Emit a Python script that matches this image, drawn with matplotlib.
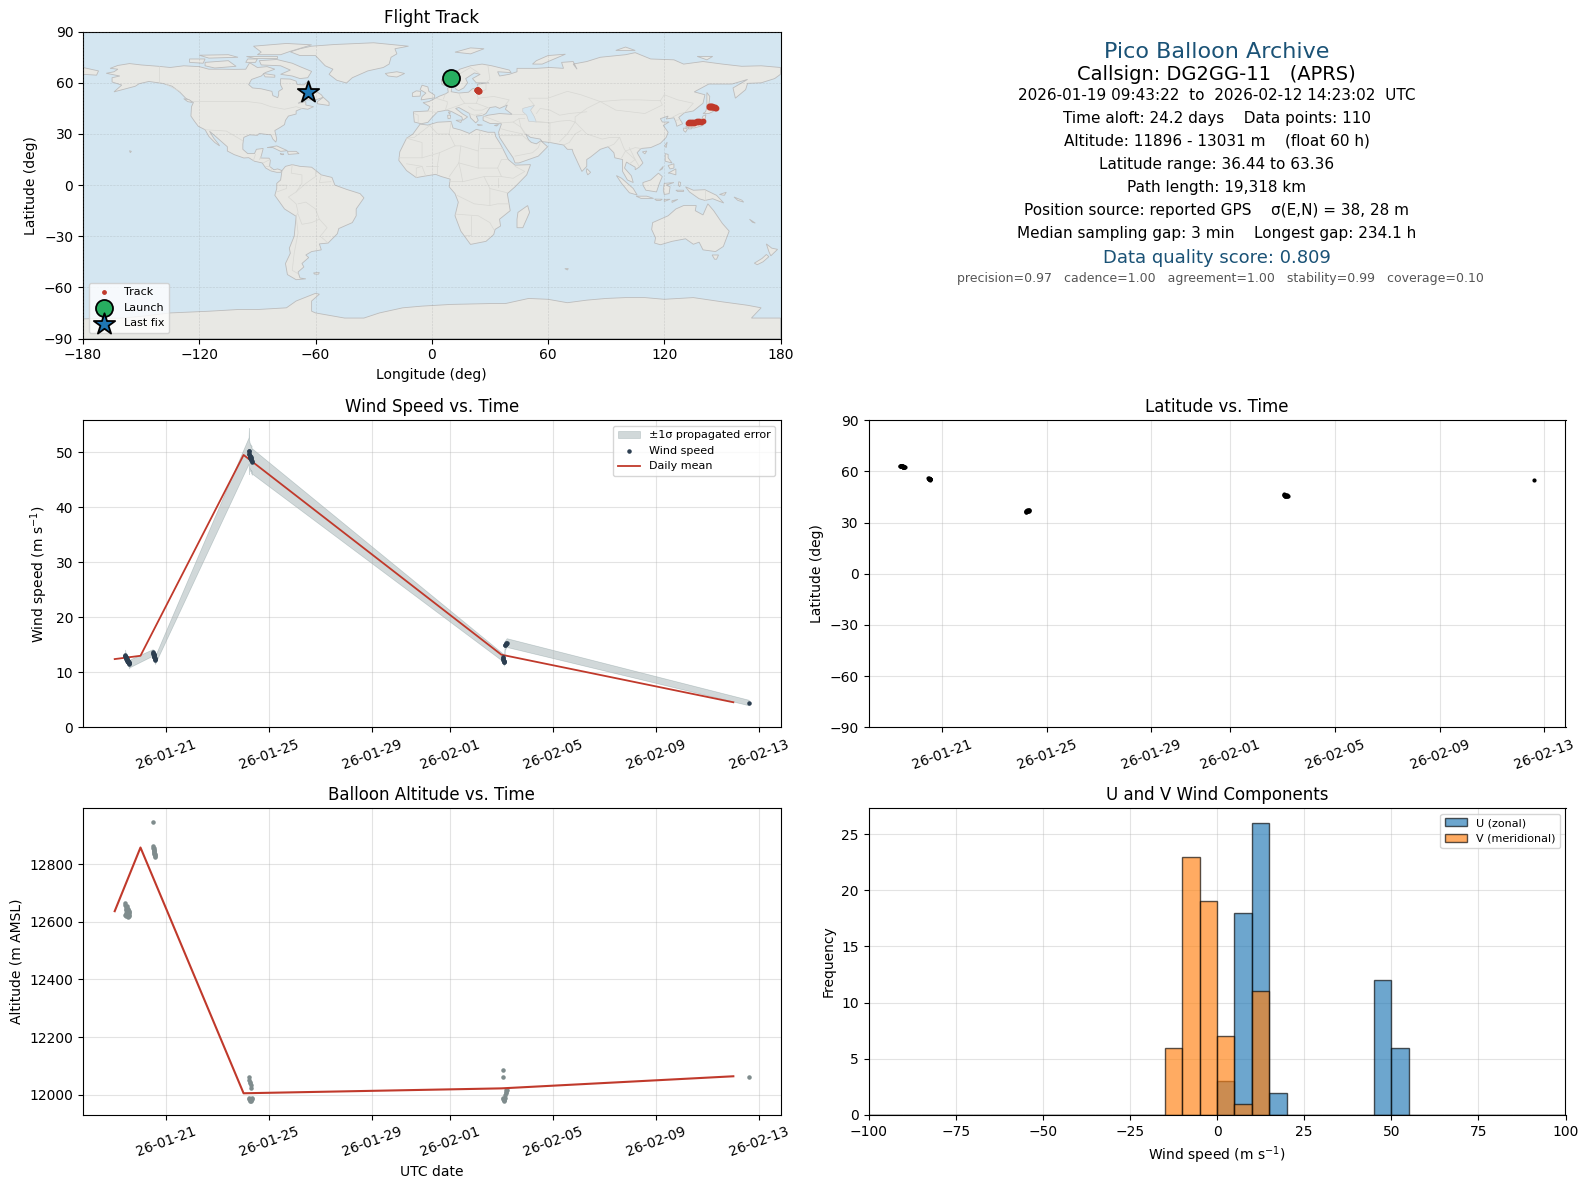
from datetime import datetime, timedelta
import matplotlib
matplotlib.use("Agg")
import matplotlib.pyplot as plt
import matplotlib.dates as mdates
import numpy as np

# ---- time series (days since 2026-01-19 00:00 UTC) ----
t_days = [0.405,0.412,0.418,0.425,0.432,0.44,0.447,0.453,0.46,0.468,0.475,0.48,0.487,0.495,0.5,0.508,0.515,0.522,0.53,0.537,0.545,0.553,0.562,0.572,
          1.47,1.50,1.505,1.51,1.515,1.52,1.525,1.53,1.535,1.54,1.545,1.55,1.555,1.56,
          5.195,5.205,5.215,5.225,5.235,5.245,5.255,5.265,5.275,5.285,5.295,5.305,5.315,5.325,
          15.06,15.07,15.075,15.08,15.085,15.09,15.10,15.11,15.13,15.15,15.165,15.18,15.19,15.205,
          24.60]
wind = [13.1,12.9,13.0,12.7,12.8,12.6,12.5,12.6,12.4,12.3,12.4,12.2,12.1,12.2,12.0,11.9,12.1,11.8,11.9,11.7,11.6,11.8,11.5,11.6,
        13.6,13.5,13.3,13.4,13.1,13.2,12.9,13.0,12.8,12.7,12.6,12.4,12.5,12.2,
        50.3,50.2,49.7,49.6,49.4,49.2,49.3,48.9,49.1,48.8,48.6,48.9,48.2,48.4,
        12.7,12.6,12.4,12.3,12.1,12.0,11.9,11.8,14.9,15.0,15.1,15.2,15.3,15.4,
        4.5]
sigma = [1.0,0.8,0.7,0.6,0.6,0.6,0.6,0.6,0.6,0.6,0.6,0.6,0.6,0.6,0.6,0.6,0.6,0.6,0.6,0.6,0.6,0.6,0.8,0.7,
         0.6,0.6,0.6,0.6,0.6,0.6,0.6,0.6,0.6,0.6,0.6,0.6,0.6,0.7,
         2.4,4.2,2.5,2.4,2.3,2.4,2.3,2.4,2.3,2.3,2.4,2.3,2.3,2.3,
         0.7,0.6,0.6,0.6,0.6,0.7,0.6,0.6,0.8,0.8,0.8,0.8,0.8,0.8,
         0.5]
altitude = [12665,12625,12658,12640,12620,12650,12632,12645,12622,12655,12636,12628,12648,12624,12640,12618,12634,12645,12626,12620,12638,12630,12622,12634,
            12946,12862,12858,12855,12851,12848,12845,12842,12840,12837,12834,12832,12828,12825,
            12060,11990,12050,11985,12045,11980,12040,11979,12032,11981,12025,11978,11984,11988,
            12087,12060,11990,11985,11980,11979,11982,11985,11990,12000,12005,12010,12015,12018,
            12062]
latitude = [63.36,63.3,63.25,63.3,63.2,63.15,63.2,63.1,63.05,63.1,63.0,62.95,63.0,62.9,62.95,62.85,62.9,62.8,62.85,62.8,62.75,62.8,62.7,62.75,
            56.0,55.9,55.85,55.8,55.75,55.7,55.65,55.6,55.55,55.5,55.45,55.4,55.3,55.2,
            36.44,37.0,36.5,36.9,36.6,37.1,36.7,37.3,36.8,37.4,36.9,37.5,37.0,37.6,
            46.5,46.0,46.4,45.9,46.3,45.8,46.2,45.7,46.1,45.6,46.0,45.5,45.9,45.4,
            55.0]
longitude = [9.8,9.9,10.0,10.0,10.1,10.2,10.3,10.3,10.4,10.5,10.6,10.6,10.7,10.8,10.9,10.9,11.0,11.1,11.2,11.2,11.3,11.4,11.5,11.6,
             23.3,23.4,23.5,23.5,23.6,23.7,23.7,23.8,23.9,24.0,24.0,24.1,24.2,24.3,
             132.5,133.0,133.5,134.0,134.5,135.0,135.5,136.0,136.5,137.0,137.5,138.0,138.8,139.8,
             143.0,143.2,143.5,143.7,144.0,144.2,144.5,144.8,145.0,145.3,145.6,146.0,146.4,146.9,
             -64.0]

mean_days = [0, 1, 5, 15, 24]
mean_wind = [12.4, 13.0, 49.5, 13.2, 4.55]
mean_alt = [12637, 12858, 12005, 12022, 12064]

launch_pos = (9.8, 63.1)
last_pos = (-64.0, 54.5)

# ---- histogram ----
hist_edges = list(range(-100, 105, 5))
u_bins = [0, 5, 10, 15, 45, 50]
u_counts = [3, 18, 26, 2, 12, 6]
v_bins = [-15, -10, -5, 0, 5, 10]
v_counts = [6, 23, 19, 7, 1, 11]

# ---- map outlines (lon, lat) ----
land_polys = [
 [(-168,65.6),(-164,66.5),(-162,68),(-166,68.5),(-162,70.2),(-156,71.3),(-150,70.5),(-141,69.7),(-135,69),(-128,70),(-120,69.5),(-115,68),(-108,68),(-102,67.9),(-96,68),(-94,71.8),(-90,69),(-85,69.5),(-81,68),(-86,66),(-88,64),(-93,62),(-94.5,59),(-92.5,57),(-88,56.5),(-82.5,55),(-82,52.5),(-79.5,51.3),(-79,53),(-79,55),(-77,56.5),(-78,58.7),(-78,62.4),(-73,62.2),(-70,61),(-69.5,59),(-66,58.8),(-64.5,60.3),(-61,56),(-57,53),(-56,51.5),(-60,50),(-66,50),(-69,48),(-65,49),(-65,47),(-61,46),(-64,44.5),(-67,45),(-70,43.5),(-70,41.7),(-74,40.5),(-75.5,38),(-76,35.5),(-78,34),(-81,32),(-80,27),(-80.5,25.2),(-82,27),(-83,29.5),(-85,29.7),(-89,30.3),(-90,29.2),(-94,29.5),(-97,28),(-97.5,24),(-97.5,21),(-95,18.5),(-91.5,18.5),(-90.5,21),(-87,21.5),(-88,17),(-88.5,15.9),(-84,15.8),(-83.3,14.5),(-83.7,11),(-81.5,9),(-79.5,9.5),(-77.3,8.5),(-78,7.5),(-80,7.5),(-83,8.3),(-85.7,10),(-87.5,13),(-91.5,14),(-94.5,16.1),(-97,15.9),(-102,17.9),(-105.5,20),(-105.5,22.5),(-109,26),(-112.5,29.5),(-114.7,31.6),(-112.5,27.5),(-110,24),(-109.5,23),(-112,25),(-115,28.5),(-117,32.5),(-120.5,34.5),(-122.5,37.5),(-124.3,40.5),(-124,46),(-123,48.5),(-127,51),(-130,54.5),(-134,58),(-139,59.7),(-146,60.8),(-151,59.5),(-153,58),(-158,56.5),(-164,54.7),(-160,58.7),(-165,60.5),(-165,63),(-161,64)],
 [(-73,78.2),(-68,76),(-60,76),(-55,70),(-51,68),(-53,65),(-49,61.5),(-44,59.9),(-41,63),(-33,67),(-25,69),(-22,71),(-21,75),(-18,77),(-19,80),(-12,81.5),(-30,83.5),(-50,82.5),(-62,81.5),(-68,80)],
 [(-80,73.7),(-72,71.5),(-68,69.5),(-62,66.7),(-64,63),(-68,62.5),(-72,64),(-78,65),(-73,67.5),(-78,70),(-88,70.5),(-89,73)],
 [(-117,72),(-105,73),(-101,69.7),(-112,68.7),(-117,70)],
 [(-125,74),(-117,74),(-118,71.5),(-125,72)],
 [(-90,76.5),(-78,76.5),(-73,78.5),(-62,82.3),(-75,83.1),(-92,81.5),(-88,78)],
 [(-96,75.5),(-80,75.5),(-80,74.6),(-92,74.6)],
 [(-120,76.2),(-105,76.5),(-100,75),(-115,74.5)],
 [(-95,74),(-90,74),(-91,72),(-96,72)],
 [(-87,65.5),(-81,64.5),(-81,63.3),(-86,63.5)],
 [(-59,47.7),(-53,46.7),(-53,48.5),(-56,51.5),(-59,49)],
 [(-85,22),(-80,23),(-74.5,20.2),(-78,19.8),(-82,22)],
 [(-74.5,19.8),(-70,19.8),(-68.5,18.5),(-74,18)],
 [(-78.3,18.4),(-76.3,18.2),(-77,17.8)],
 [(-128,50.7),(-125,50),(-123.5,48.4),(-126,49)],
 [(-156,20.2),(-155,19.8),(-155.6,19)],
 [(-77.3,8.5),(-75.5,11),(-72,12),(-68,11),(-62,10.5),(-57,6),(-51.5,4.5),(-50,0),(-44,-2.5),(-37,-5),(-35,-7.5),(-39,-14),(-39,-18),(-41,-22),(-48,-25.5),(-48.7,-28.5),(-53.5,-34),(-58,-34.5),(-57,-38),(-62,-39),(-65,-41),(-63.5,-42.5),(-67,-46),(-66,-48),(-69,-51),(-68,-54.5),(-65,-55),(-70,-55.5),(-74.5,-52.5),(-75.5,-46),(-73,-40),(-73.5,-37),(-71,-30),(-70,-18.3),(-76,-14),(-81,-6),(-80,-2),(-80,1),(-78,3),(-77.5,7)],
 [(-61,-51.5),(-58,-51.3),(-58.5,-52.3),(-60.5,-52.2)],
 [(-6,35.8),(-2,35.2),(3,36.9),(10,37.3),(11,33.5),(15,32.3),(19.5,30.3),(23,32.7),(29,31),(32.5,31),(33,28.5),(35.5,24),(37.3,20),(39.5,15),(43,11.7),(51,12),(49,6),(43,-1),(39,-5),(40.5,-15),(35,-20),(35.5,-24),(32.7,-26),(32,-29),(28,-33),(20,-34.8),(18.2,-32),(15,-27),(12,-18),(13.7,-10),(12,-5),(9,-1),(9.5,3.5),(5,5),(2,6.3),(-4,5.2),(-8,4.4),(-13,8.5),(-17,14.5),(-16.5,19.5),(-13,27.5),(-9.7,30)],
 [(-9,37),(-9.5,43),(-2,43.5),(-1,46),(-4.5,48.4),(-1.5,49),(2,51),(4,52.2),(7,53.5),(8.5,54.5),(8.2,57),(10.5,57.7),(10,54.8),(14,54),(19,54.5),(21,56.5),(24,57.2),(23.5,59.2),(29.5,60),(23,60),(21,62.5),(25,65),(22,65.8),(17.5,62.5),(18.5,60),(16.5,57),(14,55.5),(12.7,56),(11,59),(8,58),(5.3,59),(5,62),(10,64),(14.5,68),(20,70),(26,71),(31,70),(40,67.5),(41,66),(34,66.5),(35,64),(40,65),(44,66.5),(44,68.5),(54,68.5),(61,69),(68,68.5),(67,72),(73,72.5),(75,68),(73,71),(80,72.5),(87,75),(100,76.5),(105,77.7),(113,74),(125,73.5),(130,71),(140,72.5),(150,71),(160,69.7),(170,70),(180,69),(180,65),(177,62.5),(170,60),(163,59.7),(162,56),(156.7,51),(155.5,57),(163,62),(155,59.3),(143,59.3),(135.5,54.7),(141,53),(140,48),(135,43.5),(130.5,42.5),(127.5,39.7),(129.5,36),(126.5,34.5),(126,37),(125,39.5),(121,38.8),(122,40.5),(118,39),(119,37),(122.5,37),(119.5,35),(122,31),(121,28),(118,24.5),(113,22),(108,21.5),(106,19),(109,13),(107,10.5),(105,9),(105,10.5),(102,12.5),(100.5,13.5),(99.5,10),(103,5.5),(104,1.5),(101,3),(98.5,8),(98.5,15),(94.5,16),(94,19),(91,22.5),(87,21),(82,16.5),(80,15),(80,11),(77.5,8),(73,19),(72.5,21),(70,21),(68,23.5),(61,25),(57,25.5),(56,27),(51,28),(48.5,30),(50,26.5),(51.5,25),(54,24.2),(56.3,26),(59.8,22.5),(55,17),(45,13),(43,13),(42,16),(39,21),(35,28),(34.5,31),(36,36),(30,36.2),(26.5,38),(26.5,40),(29,41),(35,42),(41.5,41.5),(38,44.5),(39,47),(35,45),(33,46),(30,45.5),(28,42),(26,40.8),(23,40.5),(24,38),(22.7,36.5),(20,39.5),(19.5,42),(14,45.5),(12.3,45),(16,41.7),(18.5,40),(16,38),(15.5,40),(10.5,43),(8,44),(3,43),(0,39.5),(-2,36.8),(-5.5,36)],
 [(-180,69),(-172,67),(-173,64.5),(-180,65)],
 [(-5.5,50),(1.5,51.2),(1.5,52.8),(-1.5,55),(-2,57.6),(-5,58.6),(-6,56),(-3,54),(-5,52)],
 [(-10,52),(-6,52.2),(-5.7,55),(-8,55.3),(-10,54)],
 [(-24,65.5),(-18,66.5),(-14,65.5),(-18,63.4),(-22.5,64)],
 [(12,78),(20,80.5),(27,80),(20,77)],
 [(52,71),(57,71),(69,76.8),(60,76),(54,73)],
 [(95,79),(105,79),(100,81)],
 [(137,75.5),(145,75.5),(142,73.5)],
 [(142,54.3),(143.5,52),(143,47),(142,46),(142,50)],
 [(130.9,34),(135.5,33.5),(140,35),(141,38),(141.5,41.3),(140,40.5),(139,38),(136.5,37),(133,35.5)],
 [(140,42),(143,42),(145.5,43.3),(142,45.5),(141.3,43)],
 [(130,33.5),(132,33),(131,31),(130,32)],
 [(132.5,34),(134.5,34),(134,33),(132.5,33)],
 [(120.2,23),(121.5,25.2),(121,22)],
 [(108.7,19.5),(111,20),(110,18.3)],
 [(120.5,18.5),(122,18),(122,16),(124,13),(120.5,14)],
 [(122,7),(126,9.5),(126,6),(123,7)],
 [(122,11.5),(125,12.5),(125,10),(123,9.5)],
 [(117.5,8.5),(119.5,11),(119,9.5)],
 [(109,1.5),(113,3),(117,7),(119,5),(117.5,1),(116,-4),(110.5,-3),(109,0)],
 [(95.3,5.6),(98,4),(104,-2),(106,-5.8),(102,-4.5),(98,1)],
 [(105.5,-6.5),(111,-6.5),(114.5,-7.8),(108,-7.8)],
 [(115,-8.2),(119,-8.3),(118,-9),(116,-9)],
 [(120,-8.4),(123,-8.3),(120,-9.6)],
 [(124,-9.2),(127,-8.4),(124,-10.2)],
 [(120,1),(125,1.5),(121,0),(123,-1),(122.5,-5),(120,-5.5),(119.5,-3)],
 [(127.5,2),(128.5,1.5),(128,-1),(127.3,0)],
 [(126,-3),(130,-3),(130,-3.7),(127,-3.8)],
 [(131,-1),(135,-3),(141,-2.7),(147,-6),(150.7,-10.5),(145,-8),(141,-9),(138,-8),(133,-4)],
 [(148.5,-5.5),(152,-4.2),(151,-6)],
 [(156,-7),(160,-8.8),(161,-10),(158,-9)],
 [(80,9.7),(82,7.5),(80.5,6),(79.8,8)],
 [(49.5,-12),(50.5,-16),(47,-25),(44,-25),(44,-20),(44.5,-16)],
 [(114,-22),(122,-18),(126,-14),(130,-12),(136.5,-12),(136,-15),(140,-17.5),(142.5,-11),(145.5,-15),(150,-22.5),(153.5,-27),(150.5,-36),(146.5,-39),(140,-38),(138,-33.5),(135,-34.7),(131,-31.5),(124,-33),(118,-35),(115,-34),(115.5,-31),(113.5,-26)],
 [(144.7,-41),(148,-41),(147,-43.5),(146,-43.5)],
 [(172.7,-34.5),(175.5,-37),(178.5,-37.7),(175,-41.5),(174,-39)],
 [(172.7,-40.7),(174,-42),(171,-45),(168,-46.7),(166.5,-45.8),(170.5,-43)],
 [(164,-20),(167,-22.3),(165.5,-21.8)],
 [(68.7,-49),(70.5,-49),(70,-49.8)],
 [(12.5,38),(15.5,38.2),(15,36.7)],
 [(8.2,41),(9.7,41),(9.5,39),(8.4,39)],
 [(8.6,42.8),(9.5,43),(9.3,41.5)],
 [(23.5,35.6),(26.2,35.2),(24,35)],
 [(32.3,35),(34.5,35.6),(33.5,34.7)],
 [(-180,-90),(-180,-78.5),(-160,-78),(-150,-77),(-135,-75),(-115,-74),(-100,-73),(-90,-73),(-75,-72),(-70,-68),(-60,-63.5),(-58,-64),(-62,-68),(-62,-74),(-60,-75),(-45,-78),(-35,-78),(-27,-75),(-15,-72),(-5,-71),(10,-70),(30,-69.5),(38,-69.5),(50,-66.5),(60,-67),(70,-69),(80,-67.5),(90,-66.5),(100,-66),(110,-66),(120,-67),(135,-66),(150,-68.5),(163,-70.5),(170,-72),(165,-78),(180,-78),(180,-90)],
]
lake_polys = [
 [(47,45),(53,46.8),(51,44),(53,40),(54,37),(50,37.5),(49,41),(47,43)],
]
border_lines = [
 [(-141,69.7),(-141,60)],[(-137,59),(-130,55)],[(-123,49),(-95,49),(-88,48),(-83,46),(-76,44.5),(-70,46),(-67,45)],
 [(-117,32.5),(-106,31.7),(-97.5,26)],[(-92,14.5),(-91,18)],[(-89,15),(-88,17)],[(-83.5,15),(-87,13)],[(-83.7,11),(-86,11)],[(-83,8.5),(-82.8,9.5)],
 [(-72,12),(-72.5,7),(-67,6),(-67,1),(-70,-4)],[(-60,8.5),(-60,5),(-65,1),(-70,-4),(-74,-7),(-70,-11),(-69,-16),(-70,-18.3)],
 [(-57,6),(-58,1.5),(-52,2)],[(-69,-11),(-65,-10),(-60,-14),(-58,-20),(-54,-25),(-57.5,-30),(-53.5,-34)],[(-69,-17),(-67,-23),(-62,-22),(-58,-20)],
 [(-70,-18.3),(-69,-28),(-71,-40),(-72,-50),(-69,-52)],[(-80,0),(-75,0),(-75,-2),(-80,-4)],
 [(-9,42),(-7,41),(-7,37)],[(-2,43.5),(3,42.5)],[(2,51),(8,49),(8,47.5),(7,44),(13.5,46.5),(17,48),(23,48),(29,45.5)],[(7,53.5),(6,50.5)],[(14,54),(15,51),(17,48)],[(23,54.3),(24,51),(23,48)],[(23,54.3),(28,56),(28,60)],[(24,51),(32,52),(40,50),(38,47)],
 [(29,70),(30,62),(28,60)],[(20,69),(24,66)],[(12,61),(14,65),(20,69)],
 [(26,42),(22,41),(19.5,42)],[(29,45.5),(26,44),(22,44),(19,46)],[(26,40.8),(36,36.5),(42,37),(45,39),(48,39)],[(41.5,41.5),(48,41.5)],
 [(36,33),(39,32),(47,30)],[(42,37),(46,34),(48.5,30)],[(34.5,29),(37,29),(47,29),(51,25)],[(43,17),(52,19),(55,22),(56,25)],[(45,39),(46,34),(48,30)],[(54,37),(61,36.5),(61,29),(61,25)],[(61,36.5),(66,37.5),(71,38),(74,37),(70,30),(66,25.5)],
 [(74,37),(80,30),(88,27),(92,28),(97,28),(94,24),(91,22.5)],[(77,32),(74,30),(71,25),(68,23.5)],[(97,28),(99,22),(100,20),(98,16)],[(100,20),(105,22),(108,21.5)],[(102,22),(105,15),(107,11)],[(100,20),(102,18),(105,15),(102,12.5)],
 [(53,46.8),(50,51),(60,51),(70,55),(77,53),(87,49),(98,50),(107,50),(118,49.5),(120,53),(127,50),(135,48),(131,43)],
 [(87,49),(80,45),(74,40),(74,37)],[(87,49),(95,44),(110,42),(119,47),(118,49.5)],[(54,42),(56,45),(61,44),(66,41),(71,42),(80,43)],[(54,37.5),(61,36.5)],
 [(124.5,40),(128,42),(130.5,42.5)],[(126,38),(128.5,38.5)],
 [(-1,35),(-9,28),(-13,27.5)],[(-1,35),(3,30),(9,30),(10,37)],[(9,30),(12,23),(15,23),(24,20),(25,32)],[(25,22),(36,22)],[(24,20),(24,10),(34,10),(36,15),(39,15)],[(34,10),(36,5),(42,4),(48,8),(43,11)],
 [(-17,16),(-5,16),(-5,25),(-13,27.5)],[(-5,16),(4,19),(12,23)],[(4,19),(3,12),(3,6.5)],[(15,23),(14,13),(9,5)],[(14,13),(24,10)],[(14,13),(15,8),(16,2),(9,2)],[(16,2),(27,5),(36,5)],[(27,5),(30,-2),(30,-12),(22,-11),(13,-6)],[(30,-12),(34,-11),(40,-11)],[(12,-17),(24,-18),(30,-22),(32,-26)],[(20,-18),(20,-29),(17,-29)],[(30,-2),(39,-4.5)],[(34,4),(34,-1)],
 [(-8,4.4),(-8,10),(-5,11),(-3,5)],[(-3,11),(3,11)],[(-13,12.5),(-5,11)],
 [(141,-2.7),(141,-9)],
]

band_color = "#264a4e"
gray_dot = "#7f8c8d"
red = "#c0392b"
navy = "#2c3e50"
ink_blue = "#1a5276"
W, H = 1588, 1189


def make_axes(x0, x1, y0, y1):
    return fig.add_axes([x0 / W, 1 - y1 / H, (x1 - x0) / W, (y1 - y0) / H])


def date_axis(ax):
    ax.xaxis.set_major_locator(mdates.AutoDateLocator())
    ax.xaxis.set_major_formatter(mdates.DateFormatter("%y-%m-%d"))
    ax.tick_params(axis="x", rotation=20)
    ax.grid(True, alpha=0.35)


fig = plt.figure(figsize=(15.88, 11.89), dpi=100)
base = datetime(2026, 1, 19)
times = [base + timedelta(days=d) for d in t_days]
mean_times = [base + timedelta(days=d) for d in mean_days]
wind_a = np.array(wind)
sigma_a = np.array(sigma)

L0, L1, R0, R1 = 83, 780.5, 868.5, 1565.5
ROWS = [(31.7, 338.5), (420.3, 727.3), (808.2, 1115)]

# ---- Flight track ----
ax = make_axes(L0, L1, *ROWS[0])
ax.set_facecolor("#d4e6f1")
for poly in land_polys:
    xs, ys = zip(*poly)
    ax.fill(xs, ys, facecolor="#e8e8e4", edgecolor="#bcbcbc", linewidth=0.6, zorder=1)
for poly in lake_polys:
    xs, ys = zip(*poly)
    ax.fill(xs, ys, facecolor="#d4e6f1", edgecolor="#c8c8c8", linewidth=0.4, zorder=1.1)
for line in border_lines:
    xs, ys = zip(*line)
    ax.plot(xs, ys, color="#d8d8d4", linewidth=0.5, zorder=1.2)
ax.scatter(longitude, latitude, s=10, color=red, zorder=3, label="Track")
ax.scatter(*launch_pos, s=150, color="#27ae60", edgecolors="black", linewidths=1.3, zorder=4, label="Launch")
ax.scatter(*last_pos, s=260, marker="*", color="#1f77b4", edgecolors="black", linewidths=1.3, zorder=4, label="Last fix")
ax.set_xlim(-180, 180)
ax.set_ylim(-90, 90)
ax.set_xticks(range(-180, 181, 60))
ax.set_yticks(range(-90, 91, 30))
ax.grid(True, linestyle="--", linewidth=0.45, color="gray", alpha=0.25, zorder=2)
ax.set_axisbelow(False)
ax.set_xlabel("Longitude (deg)")
ax.set_ylabel("Latitude (deg)")
ax.set_title("Flight Track")
legend = ax.legend(loc="lower left", fontsize=8, markerscale=1.0)
legend.legend_handles[0].set_sizes([6])

# ---- Summary text ----
ax = make_axes(R0, R1, *ROWS[0])
ax.axis("off")
summary = [
    ("Pico Balloon Archive", 52.0, 16, ink_blue, 0),
    ("Callsign: DG2GG-11   (APRS)", 74.6, 14, "black", -1),
    ("2026-01-19 09:43:22  to  2026-02-12 14:23:02  UTC", 95.2, 11, "black", 0),
    ("Time aloft: 24.2 days    Data points: 110", 118.2, 11, "black", 0),
    ("Altitude: 11896 - 13031 m    (float 60 h)", 141.2, 11, "black", 0),
    ("Latitude range: 36.44 to 63.36", 164.2, 11, "black", 0),
    ("Path length: 19,318 km", 187.2, 11, "black", 0),
    ("Position source: reported GPS    σ(E,N) = 38, 28 m", 210.2, 11, "black", 0),
    ("Median sampling gap: 3 min    Longest gap: 234.1 h", 233.2, 11, "black", 0),
    ("Data quality score: 0.809", 257.8, 13, ink_blue, 0),
    ("precision=0.97   cadence=1.00   agreement=1.00   stability=0.99   coverage=0.10", 278.2, 9, "#555555", 3),
]
for text, y_px, size, color, dx_px in summary:
    ax.text(0.5 + dx_px / 697, (338.5 - y_px) / 306.8, text, ha="center", va="center", fontsize=size, color=color, transform=ax.transAxes)

# ---- Wind speed vs time ----
ax = make_axes(L0, L1, *ROWS[1])
ax.fill_between(times, wind_a - sigma_a, wind_a + sigma_a, color=band_color, alpha=0.21, linewidth=0.5, label="±1σ propagated error")
ax.scatter(times, wind, s=5, color=navy, zorder=3, label="Wind speed")
ax.plot(mean_times, mean_wind, color=red, linewidth=1.3, label="Daily mean")
ax.set_ylim(0, 55.8)
date_axis(ax)
ax.set_ylabel("Wind speed (m s$^{-1}$)")
ax.set_title("Wind Speed vs. Time")
ax.legend(loc="upper right", fontsize=8)

# ---- Latitude vs time ----
ax = make_axes(R0, R1, *ROWS[1])
ax.scatter(times, latitude, s=4, color="black", zorder=3)
ax.set_ylim(-90, 90)
ax.set_yticks(range(-90, 91, 30))
date_axis(ax)
ax.set_ylabel("Latitude (deg)")
ax.set_title("Latitude vs. Time")

# ---- Altitude vs time ----
ax = make_axes(L0, L1, *ROWS[2])
ax.scatter(times, altitude, s=5, color=gray_dot, zorder=3)
ax.plot(mean_times, mean_alt, color=red, linewidth=1.5, zorder=4)
date_axis(ax)
ax.set_xlabel("UTC date")
ax.set_ylabel("Altitude (m AMSL)")
ax.set_title("Balloon Altitude vs. Time")

# ---- U and V histogram ----
ax = make_axes(R0, R1, *ROWS[2])
ax.hist(np.array(u_bins) + 2.5, bins=hist_edges, weights=u_counts, color="#1f77b4", edgecolor="black", alpha=0.65, label="U (zonal)")
ax.hist(np.array(v_bins) + 2.5, bins=hist_edges, weights=v_counts, color="#ff7f0e", edgecolor="black", alpha=0.65, label="V (meridional)")
ax.set_xlim(-100, 100)
ax.grid(True, alpha=0.35)
ax.set_axisbelow(True)
ax.set_xlabel("Wind speed (m s$^{-1}$)")
ax.set_ylabel("Frequency")
ax.set_title("U and V Wind Components")
ax.legend(loc="upper right", fontsize=8)

fig.savefig("out.png", dpi=100)
